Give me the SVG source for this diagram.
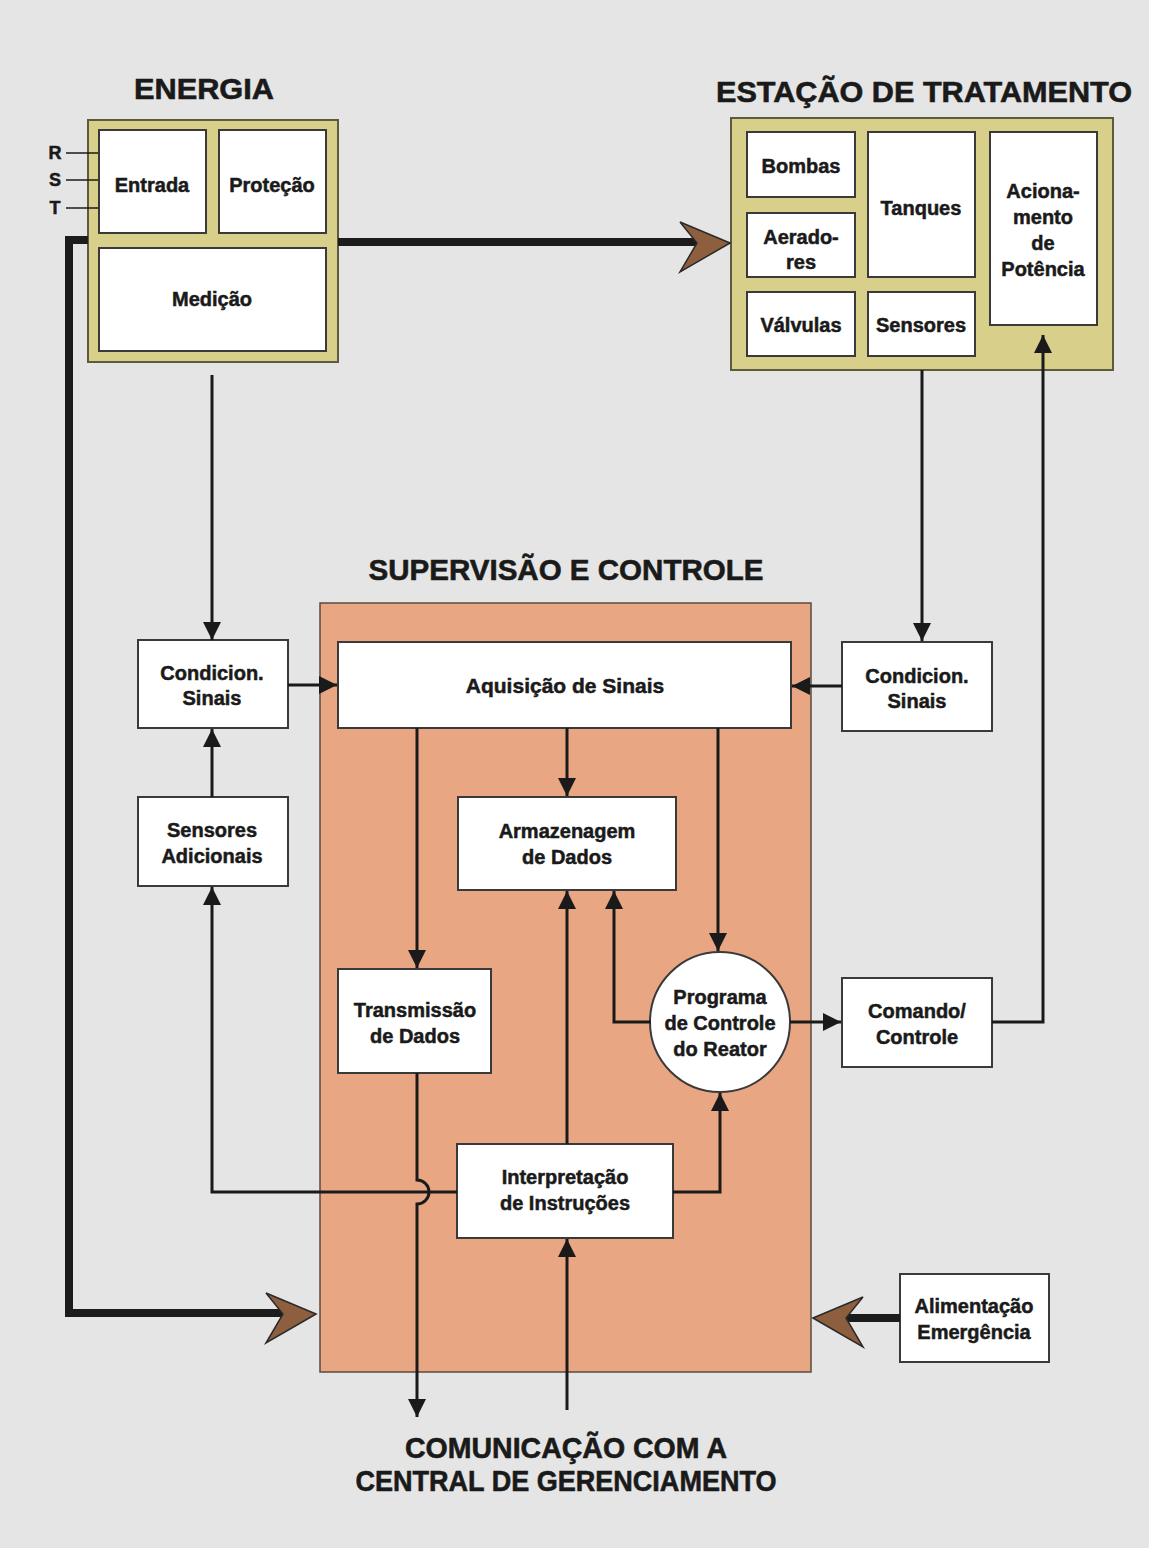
<svg xmlns="http://www.w3.org/2000/svg" width="1149" height="1548" viewBox="0 0 1149 1548">
  <style>
    .lbl { font-family: "Liberation Sans", Arial, sans-serif; font-weight: bold; font-size: 20px; fill: #1a1a1a; stroke: #1a1a1a; stroke-width: 0.5; text-anchor: middle; dominant-baseline: central; }
    .ttl { font-family: "Liberation Sans", Arial, sans-serif; font-weight: bold; font-size: 30px; fill: #1a1a1a; stroke: #1a1a1a; stroke-width: 0.6; text-anchor: middle; }
    .box { fill: #ffffff; stroke: #3a3a3a; stroke-width: 2; }
    .panel { fill: #d8cf8a; stroke: #5e5a40; stroke-width: 2; }
    .wire { fill: none; stroke: #1a1a1a; stroke-width: 3; }
    .arw { fill: none; stroke: #1a1a1a; stroke-width: 3; marker-end: url(#head); }
    .thick { fill: none; stroke: #1c1c1c; stroke-width: 8; }
    .big { fill: #8e5f3f; stroke: #2a2a2a; stroke-width: 1.5; stroke-linejoin: miter; }
  </style>
  <defs>
    <marker id="head" markerUnits="userSpaceOnUse" markerWidth="20" markerHeight="20" refX="18" refY="9" orient="auto">
      <path d="M0,0 L18,9 L0,18 z" fill="#1a1a1a"/>
    </marker>
  </defs>

  <!-- page background -->
  <rect x="0" y="0" width="1149" height="1548" fill="#e5e5e5"/>

  <!-- titles -->
  <text class="ttl" x="204" y="99" textLength="140" lengthAdjust="spacingAndGlyphs">ENERGIA</text>
  <text class="ttl" x="924" y="102" textLength="416" lengthAdjust="spacingAndGlyphs">ESTAÇÃO DE TRATAMENTO</text>
  <text class="ttl" x="566" y="580" textLength="395" lengthAdjust="spacingAndGlyphs">SUPERVISÃO E CONTROLE</text>
  <text class="ttl" x="566" y="1458" textLength="322" lengthAdjust="spacingAndGlyphs">COMUNICAÇÃO COM A</text>
  <text class="ttl" x="566" y="1491" textLength="421" lengthAdjust="spacingAndGlyphs">CENTRAL DE GERENCIAMENTO</text>

  <!-- supervision area -->
  <rect id="supervisao" x="320" y="603" width="491" height="769" fill="#e8a683" stroke="#5a4a40" stroke-width="1.5"/>

  <!-- energy panel -->
  <g id="energia">
    <rect class="panel" x="88" y="120" width="250" height="242"/>
    <text class="lbl" x="55" y="153" style="font-size:18px">R</text>
    <text class="lbl" x="55" y="180" style="font-size:18px">S</text>
    <text class="lbl" x="55" y="208" style="font-size:18px">T</text>
  </g>
  <g id="entrada">
    <rect class="box" x="99" y="130" width="107" height="103"/>
    <text class="lbl" x="152" y="185">Entrada</text>
  </g>
  <g id="protecao">
    <rect class="box" x="219" y="130" width="107" height="103"/>
    <text class="lbl" x="272" y="185">Proteção</text>
  </g>
  <g id="medicao">
    <rect class="box" x="99" y="248" width="227" height="103"/>
    <text class="lbl" x="212" y="299">Medição</text>
  </g>

  <!-- treatment plant panel -->
  <g id="estacao">
    <rect class="panel" x="731" y="118" width="382" height="252"/>
  </g>
  <g id="bombas">
    <rect class="box" x="747" y="132" width="108" height="65"/>
    <text class="lbl" x="801" y="166">Bombas</text>
  </g>
  <g id="aeradores">
    <rect class="box" x="747" y="213" width="108" height="64"/>
    <text class="lbl" x="801" y="237">Aerado-</text>
    <text class="lbl" x="801" y="262">res</text>
  </g>
  <g id="valvulas">
    <rect class="box" x="747" y="292" width="108" height="64"/>
    <text class="lbl" x="801" y="325">Válvulas</text>
  </g>
  <g id="tanques">
    <rect class="box" x="868" y="132" width="107" height="145"/>
    <text class="lbl" x="921" y="208">Tanques</text>
  </g>
  <g id="sensores">
    <rect class="box" x="868" y="292" width="107" height="64"/>
    <text class="lbl" x="921" y="325">Sensores</text>
  </g>
  <g id="acionamento">
    <rect class="box" x="990" y="132" width="107" height="193"/>
    <text class="lbl" x="1043" y="191">Aciona-</text>
    <text class="lbl" x="1043" y="217">mento</text>
    <text class="lbl" x="1043" y="243">de</text>
    <text class="lbl" x="1043" y="269">Potência</text>
  </g>

  <!-- supervision and control nodes -->
  <g id="condicion-esq">
    <rect class="box" x="138" y="640" width="150" height="88"/>
    <text class="lbl" x="212" y="673">Condicion.</text>
    <text class="lbl" x="212" y="698">Sinais</text>
  </g>
  <g id="aquisicao">
    <rect class="box" x="338" y="642" width="453" height="86"/>
    <text class="lbl" x="565" y="685" style="font-size:21px">Aquisição de Sinais</text>
  </g>
  <g id="condicion-dir">
    <rect class="box" x="842" y="642" width="150" height="89"/>
    <text class="lbl" x="917" y="676">Condicion.</text>
    <text class="lbl" x="917" y="701">Sinais</text>
  </g>
  <g id="sensores-adicionais">
    <rect class="box" x="138" y="797" width="150" height="89"/>
    <text class="lbl" x="212" y="830">Sensores</text>
    <text class="lbl" x="212" y="856">Adicionais</text>
  </g>
  <g id="armazenagem">
    <rect class="box" x="458" y="797" width="218" height="93"/>
    <text class="lbl" x="567" y="831">Armazenagem</text>
    <text class="lbl" x="567" y="857">de Dados</text>
  </g>
  <g id="transmissao">
    <rect class="box" x="338" y="969" width="153" height="104"/>
    <text class="lbl" x="415" y="1010">Transmissão</text>
    <text class="lbl" x="415" y="1036">de Dados</text>
  </g>
  <g id="programa">
    <circle cx="720" cy="1022" r="70" fill="#ffffff" stroke="#3a3a3a" stroke-width="2"/>
    <text class="lbl" x="720" y="997">Programa</text>
    <text class="lbl" x="720" y="1023">de Controle</text>
    <text class="lbl" x="720" y="1049">do Reator</text>
  </g>
  <g id="comando">
    <rect class="box" x="842" y="978" width="150" height="89"/>
    <text class="lbl" x="917" y="1011">Comando/</text>
    <text class="lbl" x="917" y="1037">Controle</text>
  </g>
  <g id="interpretacao">
    <rect class="box" x="457" y="1144" width="216" height="94"/>
    <text class="lbl" x="565" y="1177">Interpretação</text>
    <text class="lbl" x="565" y="1203">de Instruções</text>
  </g>
  <g id="alimentacao">
    <rect class="box" x="900" y="1274" width="149" height="88"/>
    <text class="lbl" x="974" y="1306">Alimentação</text>
    <text class="lbl" x="974" y="1332">Emergência</text>
  </g>

  <!-- connectors, drawn over the panels -->
  <g id="connectors">
    <!-- R S T feed lines -->
    <line class="wire" x1="66" y1="153" x2="98" y2="153" style="stroke-width:1.5"/>
    <line class="wire" x1="66" y1="180" x2="98" y2="180" style="stroke-width:1.5"/>
    <line class="wire" x1="66" y1="208" x2="98" y2="208" style="stroke-width:1.5"/>

    <!-- power feeds (thick) -->
    <polyline class="thick" points="338,242 697,242"/>
    <polygon class="big" points="730,243 680,222 697,243 680,272"/>
    <polyline class="thick" points="88,240 69,240 69,1313 282,1313"/>
    <polygon class="big" points="316,1314 266,1293 283,1314 266,1343"/>
    <polyline class="thick" points="900,1318 846,1318"/>
    <polygon class="big" points="813,1318 863,1297 846,1318 863,1347"/>

    <!-- signal paths -->
    <line class="arw" x1="212" y1="375" x2="212" y2="640"/>
    <line class="arw" x1="922" y1="370" x2="922" y2="641"/>
    <polyline class="arw" points="992,1022 1043,1022 1043,335"/>
    <line class="arw" x1="288" y1="685" x2="337" y2="685"/>
    <line class="arw" x1="842" y1="686" x2="792" y2="686"/>
    <line class="arw" x1="212" y1="797" x2="212" y2="729"/>
    <line class="arw" x1="567" y1="728" x2="567" y2="796"/>
    <line class="arw" x1="417" y1="728" x2="417" y2="968"/>
    <line class="arw" x1="718" y1="728" x2="718" y2="951"/>
    <polyline class="arw" points="651,1022 614,1022 614,891"/>
    <line class="arw" x1="790" y1="1022" x2="841" y2="1022"/>
    <line class="arw" x1="567" y1="1144" x2="567" y2="891"/>
    <polyline class="arw" points="673,1192 720,1192 720,1093"/>
    <polyline class="arw" points="457,1192 212,1192 212,887"/>
    <path class="arw" d="M417,1073 L417,1180 A12,12 0 0 1 417,1204 L417,1417"/>
    <line class="arw" x1="567" y1="1410" x2="567" y2="1239"/>
  </g>
</svg>
